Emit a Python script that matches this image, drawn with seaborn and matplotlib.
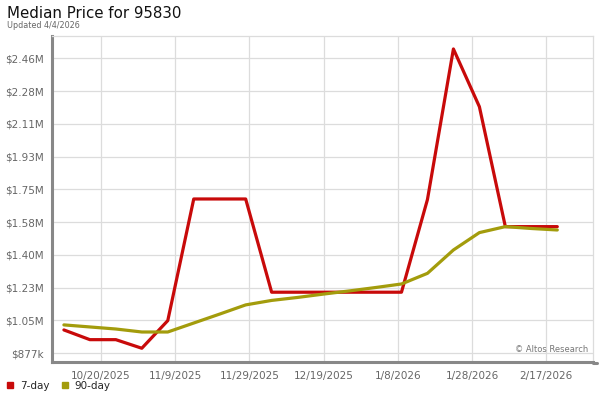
import matplotlib
matplotlib.use("Agg")
import matplotlib.pyplot as plt
from matplotlib.lines import Line2D
import seaborn as sns
import pandas as pd
import numpy as np

# ---- data ----
start_date = "2025-10-10"
n_weeks = 20
seven_day = [1.002, 0.950, 0.950, 0.904, 1.052, 1.703, 1.703, 1.703, 1.204, 1.204,
             1.204, 1.204, 1.204, 1.204, 1.700, 2.506, 2.197, 1.555, 1.555, 1.555]
ninety_day = [1.029, 1.018, 1.007, 0.991, 0.991, 1.039, 1.087, 1.136, 1.160, 1.176,
              1.194, 1.211, 1.229, 1.248, 1.305, 1.430, 1.523, 1.555, 1.545, 1.537]
series_names = ["7-day", "90-day"]
y_tick_values = [0.877193 * (1 + 0.2 * k) for k in range(10)]
y_tick_labels = ["$877k", "$1.05M", "$1.23M", "$1.40M", "$1.58M", "$1.75M",
                 "$1.93M", "$2.11M", "$2.28M", "$2.46M"]
x_tick_dates = ["2025-10-20", "2025-11-09", "2025-11-29", "2025-12-19",
                "2026-01-08", "2026-01-28", "2026-02-17"]
x_tick_labels = ["10/20/2025", "11/9/2025", "11/29/2025", "12/19/2025",
                 "1/8/2026", "1/28/2026", "2/17/2026"]
title = "Median Price for 95830"
subtitle = "Updated 4/4/2026"
credit = "\u00a9 Altos Research"

colors = {"7-day": "#c80a0a", "90-day": "#a39c0c"}

dates = pd.date_range(start_date, periods=n_weeks, freq="7D")
df = pd.DataFrame({
    "date": np.concatenate([dates, dates]),
    "price": seven_day + ninety_day,
    "series": [series_names[0]] * n_weeks + [series_names[1]] * n_weeks,
})

sns.set_style("white")
plt.rcParams["font.family"] = ["DejaVu Sans"]

fig = plt.figure(figsize=(6, 4), dpi=100)
ax = fig.add_axes([52 / 600, (400 - 361.7) / 400, (593.3 - 52) / 600, (361.7 - 35.7) / 400])

sns.lineplot(data=df, x="date", y="price", hue="series", palette=colors,
             linewidth=2.3, ax=ax, legend=False, zorder=3)

ax.set_ylim(0.832, 2.577)
ax.set_xlim(pd.Timestamp("2025-10-06 19:00"), pd.Timestamp("2026-03-01 17:00"))

ax.set_yticks(y_tick_values)
ax.set_yticklabels(y_tick_labels)
ax.set_xticks([pd.Timestamp(d) for d in x_tick_dates])
ax.set_xticklabels(x_tick_labels)
ax.tick_params(axis="both", length=0, labelsize=7.5, labelcolor="#666666")
ax.tick_params(axis="y", pad=6)
ax.tick_params(axis="x", pad=7)
ax.set_xlabel("")
ax.set_ylabel("")

ax.grid(True, color="#dcdcdc", linewidth=0.9, zorder=0)
ax.set_axisbelow(True)

for side in ["top", "right"]:
    ax.spines[side].set_color("#dcdcdc")
    ax.spines[side].set_linewidth(0.9)
for side in ["left", "bottom"]:
    ax.spines[side].set_color("#888888")
    ax.spines[side].set_linewidth(2.2)

# shadow extension of bottom axis
fig.add_artist(Line2D([593 / 600, 597 / 600], [(400 - 362.5) / 400] * 2,
                      color="#888888", linewidth=2.2, transform=fig.transFigure))

ax.text(0.990, 0.025, credit, transform=ax.transAxes, ha="right", va="bottom",
        fontsize=6.0, color="#777777")

fig.text(7 / 600, 1 - 13 / 400, title, fontsize=10.8, color="#111111", va="center", ha="left")
fig.text(7 / 600, 1 - 25 / 400, subtitle, fontsize=5.8, color="#666666", va="center", ha="left")

handles = [Line2D([0], [0], marker="s", color="none", markerfacecolor=colors[n],
                  markeredgecolor=colors[n], markersize=5) for n in series_names]
fig.legend(handles, series_names, loc="center left", bbox_to_anchor=(4 / 600, 1 - 386 / 400),
           ncol=2, frameon=False, fontsize=7.5, handlelength=0.8, handletextpad=0.5,
           columnspacing=1.1, borderaxespad=0, borderpad=0.2)

fig.savefig("out.png", dpi=100)
